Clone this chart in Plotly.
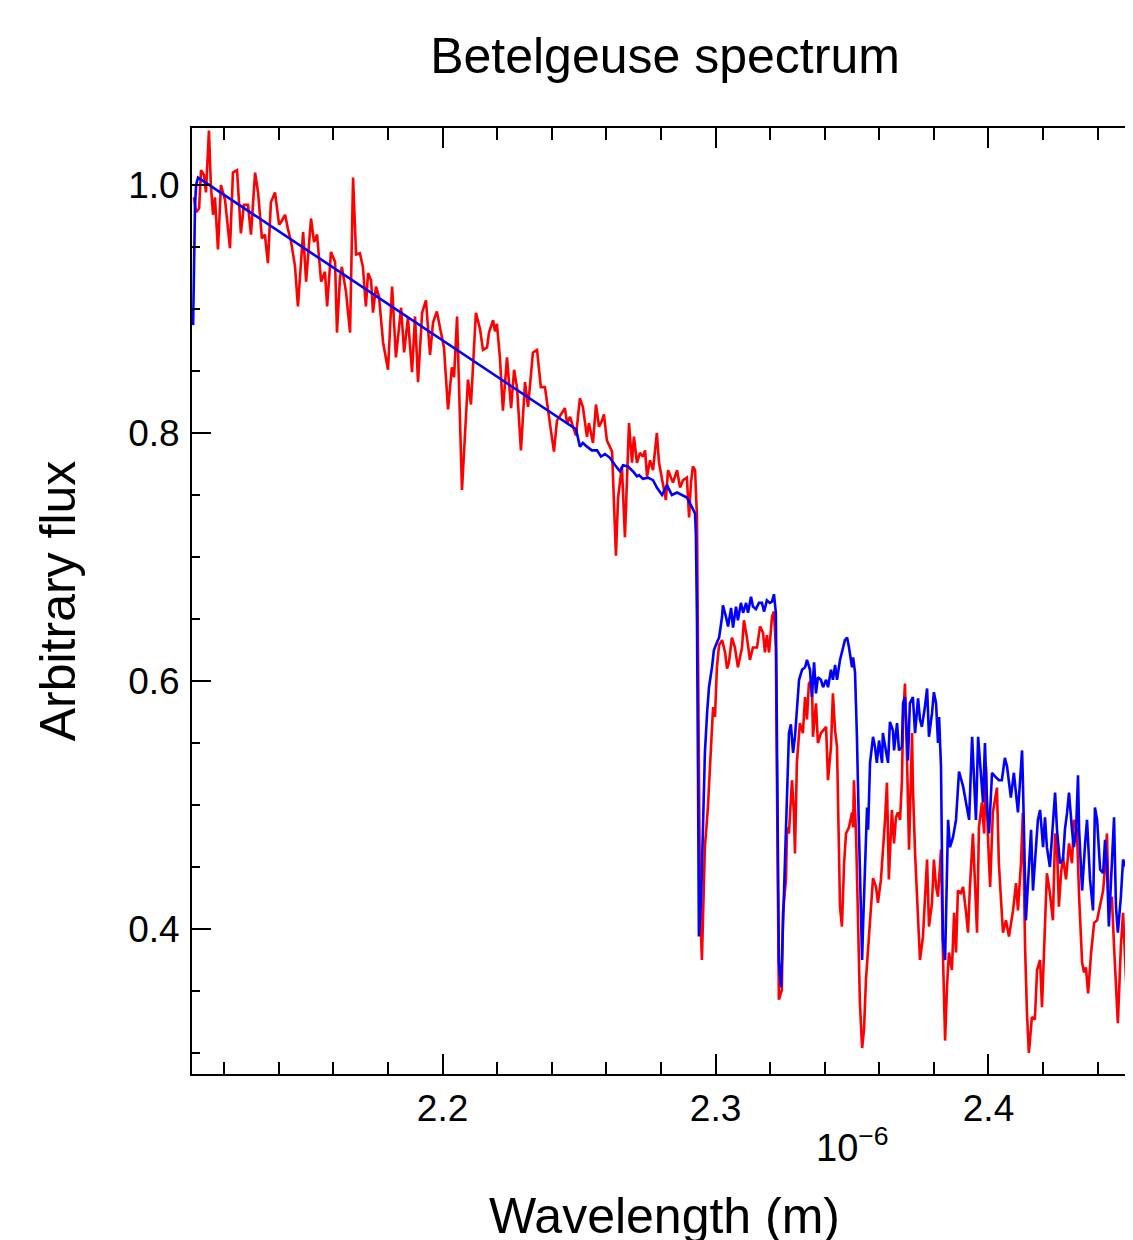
import plotly.graph_objects as go

# ---- data (wavelength in micrometres, flux arbitrary) ----
red_wavelength = [
    2.1089, 2.1097, 2.1108, 2.1115, 2.1126, 2.1133, 2.1144, 2.1151, 2.1159, 2.1166,
    2.1177, 2.1188, 2.1203, 2.1221, 2.1232, 2.1247, 2.1261, 2.1272, 2.1287, 2.1298,
    2.1313, 2.1324, 2.1338, 2.1349, 2.1360, 2.1371, 2.1386, 2.1401, 2.1408, 2.1423,
    2.1434, 2.1445, 2.1459, 2.1470, 2.1489, 2.1500, 2.1518, 2.1529, 2.1540, 2.1555,
    2.1569, 2.1577, 2.1591, 2.1606, 2.1613, 2.1624, 2.1631, 2.1646, 2.1661, 2.1672,
    2.1683, 2.1697, 2.1708, 2.1719, 2.1727, 2.1738, 2.1745, 2.1756, 2.1767, 2.1782,
    2.1800, 2.1815, 2.1829, 2.1848, 2.1859, 2.1873, 2.1888, 2.1899, 2.1910, 2.1925,
    2.1939, 2.1954, 2.1965, 2.1979, 2.1994, 2.2005, 2.2020, 2.2034, 2.2042, 2.2053,
    2.2071, 2.2082, 2.2093, 2.2104, 2.2122, 2.2137, 2.2148, 2.2163, 2.2170, 2.2185,
    2.2192, 2.2199, 2.2210, 2.2221, 2.2236, 2.2251, 2.2262, 2.2273, 2.2287, 2.2302,
    2.2313, 2.2331, 2.2346, 2.2360, 2.2375, 2.2393, 2.2408, 2.2419, 2.2437, 2.2448,
    2.2456, 2.2467, 2.2478, 2.2489, 2.2503, 2.2514, 2.2529, 2.2536, 2.2551, 2.2562,
    2.2573, 2.2584, 2.2591, 2.2602, 2.2621, 2.2635, 2.2643, 2.2657, 2.2668, 2.2676,
    2.2683, 2.2694, 2.2701, 2.2712, 2.2723, 2.2734, 2.2742, 2.2749, 2.2760, 2.2771,
    2.2785, 2.2793, 2.2807, 2.2818, 2.2826, 2.2844, 2.2859, 2.2870, 2.2881, 2.2895,
    2.2903, 2.2910, 2.2917, 2.2925, 2.2932, 2.2936, 2.2943, 2.2950, 2.2961, 2.2972,
    2.2983, 2.2991, 2.2998, 2.3005, 2.3013, 2.3024, 2.3035, 2.3042, 2.3049, 2.3060,
    2.3071, 2.3082, 2.3097, 2.3104, 2.3115, 2.3126, 2.3137, 2.3152, 2.3163, 2.3174,
    2.3181, 2.3188, 2.3196, 2.3207, 2.3214, 2.3221, 2.3225, 2.3229, 2.3232, 2.3243,
    2.3247, 2.3258, 2.3262, 2.3269, 2.3280, 2.3287, 2.3291, 2.3298, 2.3309, 2.3320,
    2.3328, 2.3335, 2.3342, 2.3353, 2.3357, 2.3368, 2.3375, 2.3386, 2.3394, 2.3405,
    2.3412, 2.3423, 2.3430, 2.3438, 2.3445, 2.3449, 2.3456, 2.3463, 2.3471, 2.3478,
    2.3489, 2.3500, 2.3504, 2.3507, 2.3515, 2.3522, 2.3529, 2.3537, 2.3544, 2.3551,
    2.3559, 2.3569, 2.3577, 2.3588, 2.3595, 2.3606, 2.3613, 2.3621, 2.3628, 2.3632,
    2.3635, 2.3646, 2.3654, 2.3661, 2.3668, 2.3676, 2.3683, 2.3687, 2.3694, 2.3701,
    2.3709, 2.3720, 2.3723, 2.3731, 2.3742, 2.3749, 2.3760, 2.3767, 2.3775, 2.3782,
    2.3793, 2.3800, 2.3808, 2.3815, 2.3826, 2.3833, 2.3841, 2.3848, 2.3855, 2.3866,
    2.3874, 2.3881, 2.3888, 2.3899, 2.3907, 2.3918, 2.3925, 2.3932, 2.3943, 2.3951,
    2.3958, 2.3965, 2.3976, 2.3984, 2.3991, 2.3998, 2.4006, 2.4016, 2.4031, 2.4038,
    2.4053, 2.4064, 2.4075, 2.4090, 2.4101, 2.4108, 2.4119, 2.4126, 2.4134, 2.4141,
    2.4148, 2.4159, 2.4170, 2.4178, 2.4189, 2.4196, 2.4207, 2.4214, 2.4225, 2.4236,
    2.4244, 2.4251, 2.4258, 2.4266, 2.4273, 2.4284, 2.4295, 2.4306, 2.4313, 2.4324,
    2.4332, 2.4343, 2.4350, 2.4357, 2.4365, 2.4376, 2.4387, 2.4398, 2.4405, 2.4420,
    2.4427, 2.4434, 2.4441, 2.4452, 2.4460, 2.4471, 2.4474, 2.4485, 2.4493, 2.4504,
    2.4511, 2.4522, 2.4529,
]
red_flux = [
    0.990, 0.978, 0.981, 1.012, 1.008, 0.994, 1.044, 1.000, 0.976, 0.990,
    0.948, 1.000, 0.988, 0.949, 1.010, 1.012, 0.961, 0.984, 0.984, 0.960,
    1.010, 0.994, 0.957, 0.960, 0.937, 0.986, 0.994, 0.968, 0.970, 0.976,
    0.964, 0.954, 0.935, 0.902, 0.962, 0.922, 0.973, 0.954, 0.960, 0.922,
    0.930, 0.902, 0.946, 0.938, 0.881, 0.925, 0.934, 0.914, 0.881, 1.006,
    0.944, 0.945, 0.934, 0.902, 0.929, 0.923, 0.897, 0.918, 0.910, 0.873,
    0.851, 0.918, 0.861, 0.901, 0.865, 0.893, 0.849, 0.894, 0.841, 0.897,
    0.907, 0.863, 0.889, 0.898, 0.881, 0.869, 0.819, 0.853, 0.845, 0.894,
    0.754, 0.797, 0.843, 0.823, 0.897, 0.884, 0.867, 0.869, 0.881, 0.891,
    0.882, 0.888, 0.861, 0.818, 0.861, 0.820, 0.851, 0.836, 0.786, 0.841,
    0.821, 0.865, 0.867, 0.837, 0.837, 0.808, 0.785, 0.810, 0.816, 0.820,
    0.808, 0.813, 0.805, 0.798, 0.828, 0.821, 0.797, 0.808, 0.792, 0.823,
    0.805, 0.810, 0.815, 0.794, 0.785, 0.701, 0.748, 0.773, 0.716, 0.760,
    0.808, 0.776, 0.797, 0.776, 0.784, 0.781, 0.786, 0.765, 0.778, 0.770,
    0.800, 0.776, 0.760, 0.746, 0.770, 0.760, 0.770, 0.756, 0.762, 0.764,
    0.732, 0.760, 0.773, 0.770, 0.732, 0.590, 0.423, 0.375, 0.466, 0.498,
    0.547, 0.579, 0.571, 0.611, 0.629, 0.633, 0.623, 0.610, 0.615, 0.635,
    0.627, 0.611, 0.627, 0.649, 0.635, 0.617, 0.627, 0.627, 0.644, 0.639,
    0.623, 0.637, 0.623, 0.652, 0.656, 0.627, 0.520, 0.440, 0.343, 0.351,
    0.413, 0.440, 0.482, 0.477, 0.520, 0.494, 0.461, 0.534, 0.566, 0.558,
    0.587, 0.569, 0.598, 0.601, 0.555, 0.582, 0.550, 0.558, 0.560, 0.563,
    0.520, 0.547, 0.590, 0.560, 0.547, 0.494, 0.418, 0.402, 0.453, 0.477,
    0.482, 0.494, 0.482, 0.520, 0.474, 0.407, 0.340, 0.304, 0.319, 0.359,
    0.383, 0.418, 0.441, 0.434, 0.421, 0.440, 0.461, 0.488, 0.518, 0.461,
    0.440, 0.496, 0.469, 0.490, 0.494, 0.488, 0.520, 0.569, 0.598, 0.542,
    0.464, 0.558, 0.515, 0.461, 0.407, 0.375, 0.394, 0.421, 0.456, 0.402,
    0.421, 0.456, 0.434, 0.426, 0.464, 0.381, 0.310, 0.353, 0.381, 0.367,
    0.413, 0.381, 0.431, 0.429, 0.434, 0.413, 0.397, 0.434, 0.477, 0.434,
    0.397, 0.482, 0.502, 0.477, 0.531, 0.474, 0.434, 0.494, 0.514, 0.453,
    0.397, 0.407, 0.394, 0.415, 0.437, 0.415, 0.453, 0.494, 0.386, 0.332,
    0.300, 0.329, 0.327, 0.367, 0.375, 0.337, 0.413, 0.445, 0.429, 0.407,
    0.477, 0.466, 0.418, 0.445, 0.458, 0.440, 0.469, 0.453, 0.488, 0.480,
    0.426, 0.373, 0.365, 0.369, 0.348, 0.381, 0.405, 0.407, 0.415, 0.431,
    0.450, 0.477, 0.413, 0.426, 0.386, 0.345, 0.324, 0.386, 0.413, 0.359,
    0.329, 0.399, 0.426,
]

blue_wavelength = [
    2.1086, 2.1089, 2.1093, 2.1097, 2.1104, 2.1118, 2.2489, 2.2503, 2.2514, 2.2529,
    2.2547, 2.2566, 2.2580, 2.2595, 2.2613, 2.2632, 2.2650, 2.2661, 2.2679, 2.2698,
    2.2712, 2.2720, 2.2734, 2.2752, 2.2771, 2.2785, 2.2804, 2.2822, 2.2840, 2.2859,
    2.2877, 2.2895, 2.2914, 2.2925, 2.2928, 2.2932, 2.2936, 2.2939, 2.2947, 2.2950,
    2.2954, 2.2961, 2.2969, 2.2976, 2.2987, 2.2994, 2.3005, 2.3013, 2.3024, 2.3027,
    2.3038, 2.3046, 2.3057, 2.3064, 2.3075, 2.3082, 2.3093, 2.3101, 2.3112, 2.3119,
    2.3130, 2.3137, 2.3148, 2.3159, 2.3170, 2.3178, 2.3188, 2.3199, 2.3207, 2.3214,
    2.3221, 2.3225, 2.3229, 2.3232, 2.3240, 2.3247, 2.3254, 2.3262, 2.3269, 2.3276,
    2.3284, 2.3291, 2.3298, 2.3306, 2.3317, 2.3328, 2.3335, 2.3346, 2.3353, 2.3361,
    2.3368, 2.3375, 2.3386, 2.3394, 2.3405, 2.3412, 2.3423, 2.3430, 2.3438, 2.3445,
    2.3456, 2.3467, 2.3474, 2.3482, 2.3489, 2.3500, 2.3504, 2.3511, 2.3518, 2.3526,
    2.3533, 2.3537, 2.3540, 2.3548, 2.3555, 2.3559, 2.3566, 2.3577, 2.3584, 2.3591,
    2.3599, 2.3610, 2.3613, 2.3624, 2.3632, 2.3639, 2.3650, 2.3654, 2.3665, 2.3672,
    2.3683, 2.3687, 2.3694, 2.3701, 2.3705, 2.3712, 2.3723, 2.3731, 2.3742, 2.3749,
    2.3756, 2.3767, 2.3775, 2.3782, 2.3793, 2.3800, 2.3808, 2.3815, 2.3819, 2.3826,
    2.3830, 2.3833, 2.3841, 2.3848, 2.3852, 2.3859, 2.3870, 2.3881, 2.3892, 2.3907,
    2.3918, 2.3929, 2.3940, 2.3947, 2.3954, 2.3962, 2.3973, 2.3980, 2.3987, 2.3995,
    2.4002, 2.4013, 2.4024, 2.4038, 2.4049, 2.4060, 2.4068, 2.4082, 2.4093, 2.4101,
    2.4108, 2.4123, 2.4126, 2.4137, 2.4145, 2.4156, 2.4163, 2.4174, 2.4181, 2.4189,
    2.4200, 2.4207, 2.4214, 2.4225, 2.4236, 2.4244, 2.4251, 2.4262, 2.4273, 2.4280,
    2.4288, 2.4295, 2.4306, 2.4313, 2.4321, 2.4328, 2.4332, 2.4343, 2.4354, 2.4361,
    2.4372, 2.4383, 2.4390, 2.4398, 2.4409, 2.4420, 2.4427, 2.4434, 2.4441, 2.4452,
    2.4460, 2.4467, 2.4474, 2.4485, 2.4493, 2.4504, 2.4511, 2.4522, 2.4529,
]
blue_flux = [
    0.887, 0.948, 0.984, 1.000, 1.006, 1.004, 0.803, 0.789, 0.792, 0.789,
    0.786, 0.786, 0.781, 0.783, 0.780, 0.774, 0.769, 0.774, 0.773, 0.769,
    0.765, 0.766, 0.763, 0.764, 0.762, 0.756, 0.750, 0.758, 0.750, 0.752,
    0.750, 0.748, 0.740, 0.735, 0.718, 0.649, 0.520, 0.394, 0.423, 0.453,
    0.494, 0.542, 0.574, 0.595, 0.611, 0.625, 0.631, 0.635, 0.652, 0.661,
    0.652, 0.644, 0.659, 0.643, 0.660, 0.649, 0.663, 0.655, 0.663, 0.655,
    0.668, 0.660, 0.658, 0.663, 0.663, 0.656, 0.665, 0.663, 0.664, 0.670,
    0.655, 0.547, 0.423, 0.373, 0.353, 0.399, 0.445, 0.494, 0.558, 0.565,
    0.542, 0.555, 0.579, 0.601, 0.609, 0.611, 0.617, 0.609, 0.587, 0.615,
    0.590, 0.603, 0.601, 0.595, 0.601, 0.595, 0.609, 0.601, 0.613, 0.601,
    0.617, 0.627, 0.633, 0.635, 0.627, 0.611, 0.619, 0.607, 0.555, 0.474,
    0.394, 0.375, 0.399, 0.461, 0.498, 0.480, 0.534, 0.555, 0.547, 0.534,
    0.552, 0.534, 0.558, 0.544, 0.534, 0.567, 0.560, 0.544, 0.566, 0.544,
    0.547, 0.582, 0.587, 0.555, 0.536, 0.582, 0.587, 0.558, 0.586, 0.569,
    0.563, 0.579, 0.594, 0.555, 0.574, 0.591, 0.582, 0.550, 0.571, 0.531,
    0.461, 0.391, 0.375, 0.434, 0.488, 0.466, 0.474, 0.488, 0.527, 0.515,
    0.502, 0.488, 0.555, 0.520, 0.488, 0.555, 0.523, 0.502, 0.550, 0.498,
    0.477, 0.526, 0.523, 0.520, 0.520, 0.538, 0.531, 0.506, 0.526, 0.506,
    0.494, 0.544, 0.520, 0.407, 0.440, 0.480, 0.431, 0.466, 0.488, 0.496,
    0.466, 0.490, 0.466, 0.450, 0.482, 0.510, 0.480, 0.453, 0.456, 0.480,
    0.494, 0.510, 0.480, 0.466, 0.480, 0.524, 0.480, 0.431, 0.469, 0.488,
    0.440, 0.415, 0.498, 0.488, 0.448, 0.445, 0.472, 0.450, 0.402, 0.450,
    0.490, 0.418, 0.397, 0.426, 0.456, 0.450, 0.429, 0.407, 0.397,
]

x_range = [2.10819, 2.45441]
y_range = [0.28306, 1.04597]

FONT = "Liberation Sans, Arial, Helvetica, sans-serif"

fig = go.Figure()
fig.add_trace(go.Scatter(x=red_wavelength, y=red_flux, mode="lines",
                         line=dict(color="#ff0000", width=2.6), showlegend=False))
fig.add_trace(go.Scatter(x=blue_wavelength, y=blue_flux, mode="lines",
                         line=dict(color="#0000ff", width=2.6), showlegend=False))

common_y = dict(range=y_range, showgrid=False, zeroline=False, ticks="inside",
                tickcolor="black", tickwidth=2)

fig.update_layout(
    width=1133, height=1240,
    margin=dict(l=184, r=4, t=120, b=174),
    paper_bgcolor="white", plot_bgcolor="white",
    font=dict(family=FONT, color="black"),
    title=dict(text="Betelgeuse spectrum", font=dict(size=50, family=FONT, color="black"),
               x=657 / 1133, xanchor="center", xref="container",
               y=1 - 47 / 1240, yanchor="middle", yref="container"),
    xaxis=dict(range=x_range, showgrid=False, zeroline=False,
               showline=True, linecolor="black", linewidth=2, mirror="ticks",
               ticks="inside", ticklen=20, tickwidth=2, tickcolor="black",
               tick0=2.0, dtick=0.1, tickformat=".1f",
               tickfont=dict(size=37, family=FONT, color="black"),
               ticklabelstandoff=1,
               minor=dict(ticks="inside", ticklen=12, tickwidth=2, tickcolor="black",
                          dtick=0.02, tick0=2.0),
               title=dict(text="Wavelength (m)", font=dict(size=50, family=FONT, color="black"),
                          standoff=70)),
    yaxis=dict(**common_y, showline=True, linecolor="black", linewidth=2, mirror=False,
               ticklen=19, tick0=0.0, dtick=0.2, tickformat=".1f",
               tickfont=dict(size=37, family=FONT, color="black"),
               ticklabelstandoff=3,
               minor=dict(ticks="inside", ticklen=8, tickwidth=2, tickcolor="black",
                          dtick=0.05, tick0=0.0),
               title=dict(text="Arbitrary flux", font=dict(size=50, family=FONT, color="black"),
                          standoff=37)),
    yaxis2=dict(**common_y, overlaying="y", side="right", anchor="x", showline=False,
                ticklen=19, tick0=0.0, dtick=0.2, showticklabels=False,
                minor=dict(ticks="inside", ticklen=8, tickwidth=2, tickcolor="black",
                           dtick=0.05, tick0=0.0)),
    yaxis3=dict(**common_y, overlaying="y", side="left", anchor="x", showline=False,
                ticklen=13, tick0=0.3, dtick=0.2, showticklabels=False),
    yaxis4=dict(**common_y, overlaying="y", side="right", anchor="x", showline=False,
                ticklen=13, tick0=0.3, dtick=0.2, showticklabels=False),
    annotations=[dict(text="10<sup>\u22126</sup>", xref="paper", yref="paper",
                      x=(814 - 192) / 945, y=-(1171 - 1074) / 946,
                      xanchor="left", yanchor="bottom", showarrow=False,
                      font=dict(size=38, family=FONT, color="black"))],
)

fig.write_html("out.html")
